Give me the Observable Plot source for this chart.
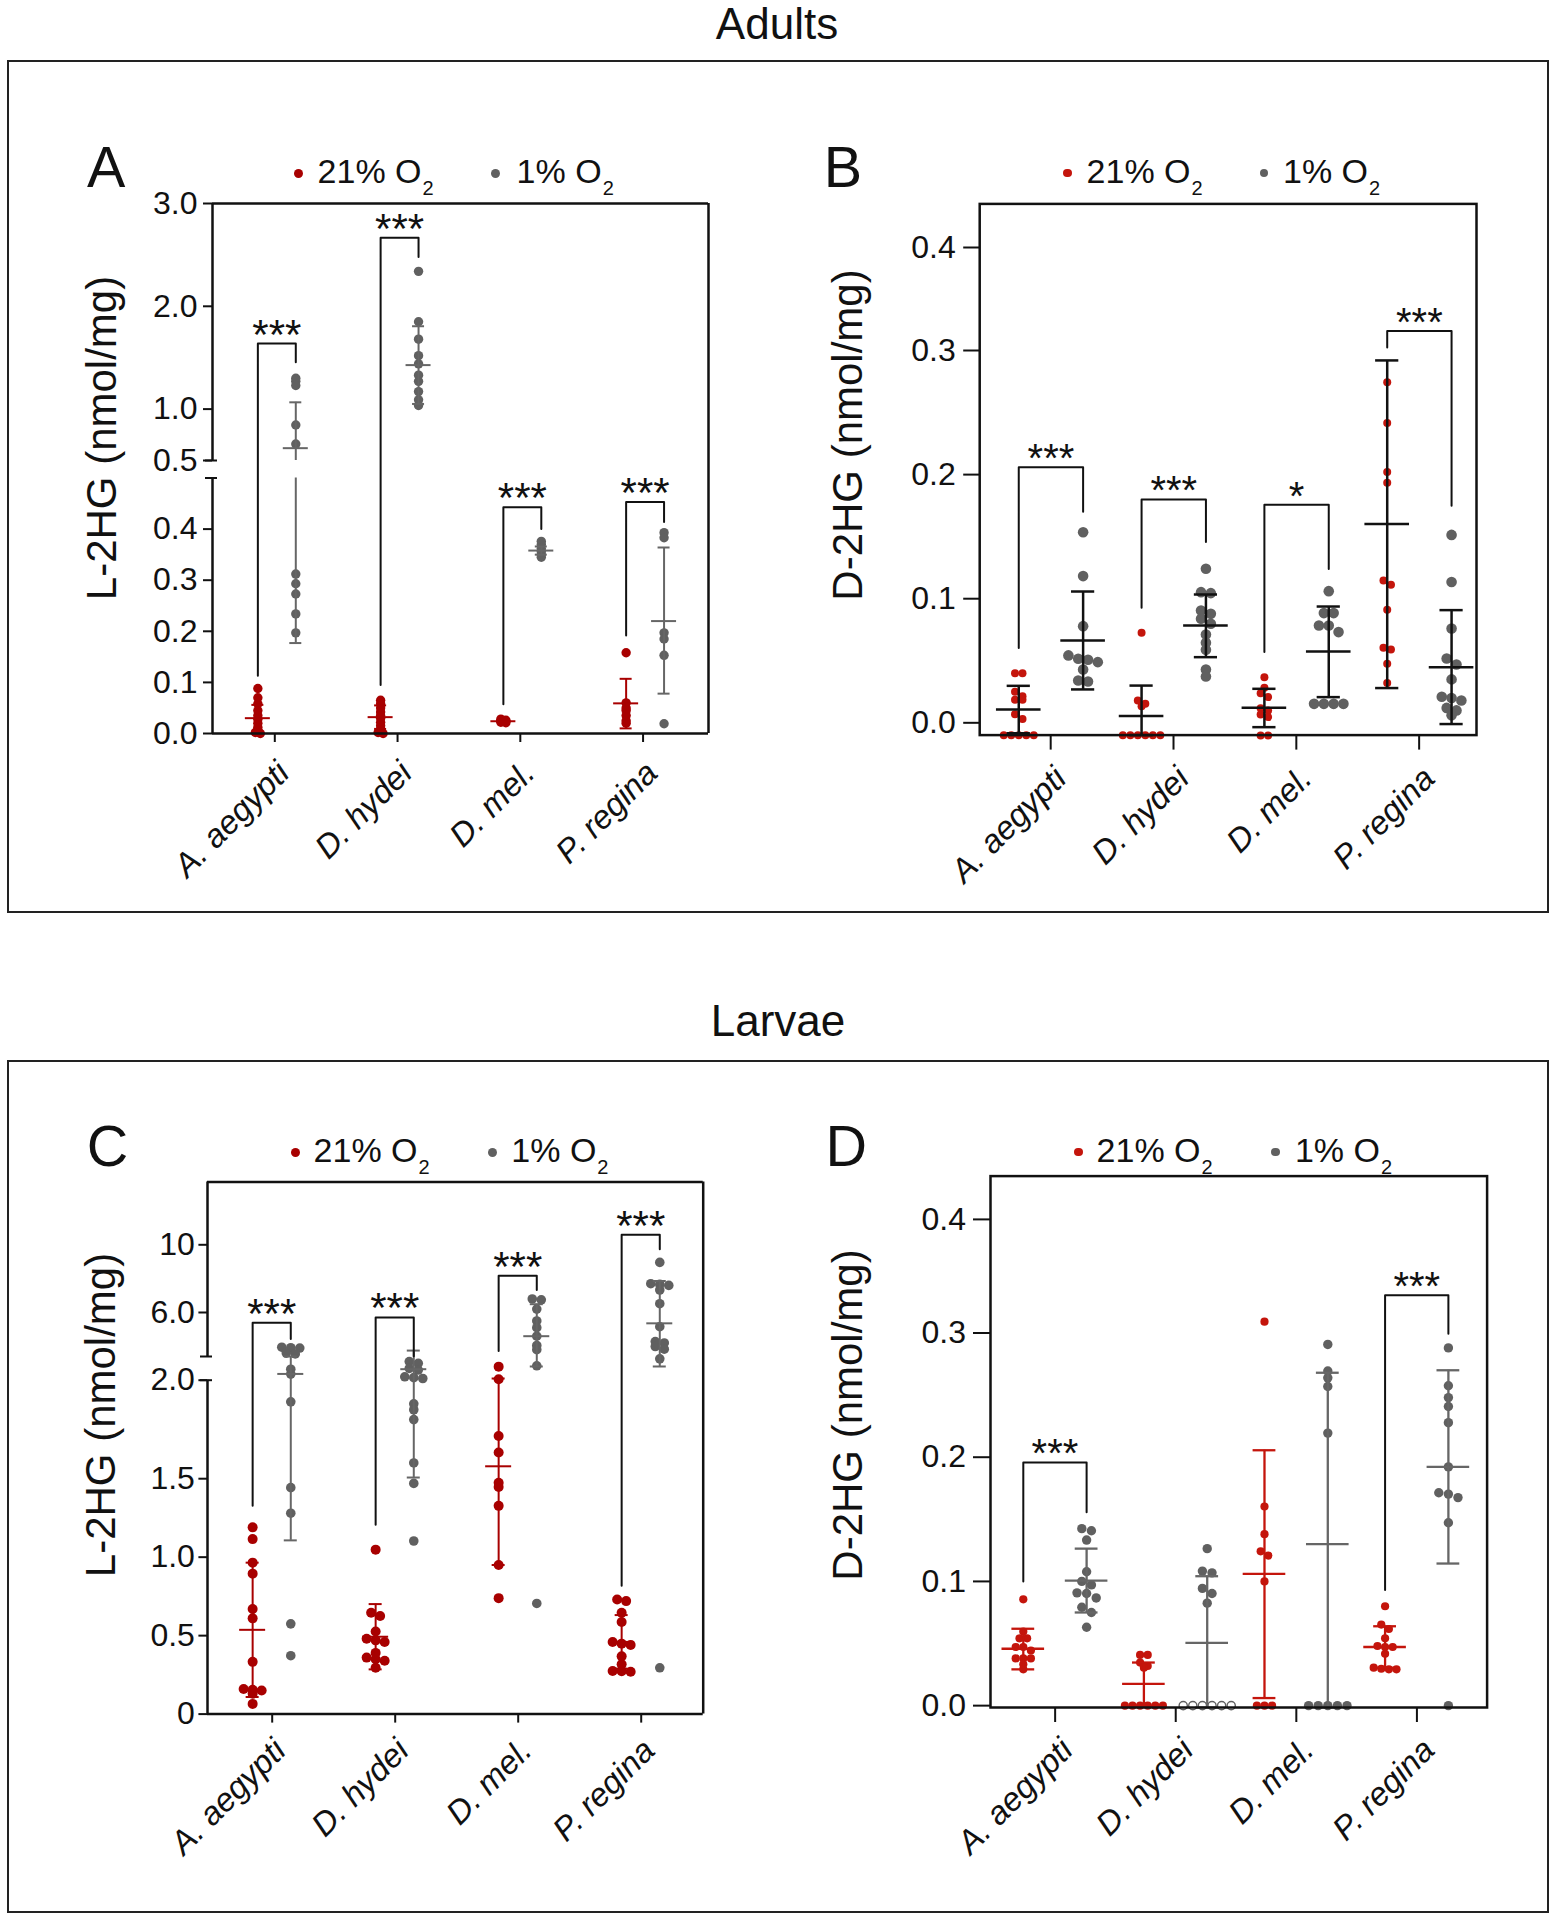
<!DOCTYPE html>
<html><head><meta charset="utf-8">
<script src="https://cdn.jsdelivr.net/npm/d3@7"></script>
<script src="https://cdn.jsdelivr.net/npm/@observablehq/plot@0.6"></script>
<style>
body{margin:0;background:#fff;color:#111;font-family:"Liberation Sans",Arial,sans-serif;}
#page{position:relative;width:1556px;height:1920px;overflow:hidden;}
.abs{position:absolute;white-space:nowrap;}
.box{position:absolute;border:2.5px solid #222;box-sizing:border-box;}
.title{font-size:44px;line-height:44px;transform:translateX(-50%);}
.letter{font-size:57.5px;line-height:57.5px;}
.leg{font-size:34px;line-height:34px;}
.leg .sub{font-size:20px;position:relative;top:12px;margin-left:1px;}
.dot{position:absolute;border-radius:50%;}
.ytitle{font-size:42px;line-height:42px;transform:translate(-50%,-50%) rotate(-90deg);}
.panel{position:absolute;}
</style></head>
<body><div id="page"></div>
<script>
// ---------------- data ----------------
const species = ["A. aegypti", "D. hydei", "D. mel.", "P. regina"];

// Panel A – Adults, L-2HG (nmol/mg)
const adultL2HG_21 = [
  [0.088, 0.07, 0.058, 0.045, 0.035, 0.028, 0.02, 0.012, 0.006, 0.002, 0.0],
  [0.065, 0.058, 0.05, 0.042, 0.035, 0.03, 0.022, 0.015, 0.008, 0.002, 0.0],
  [0.028, 0.026, 0.025, 0.024, 0.022, 0.021],
  [0.158, 0.06, 0.05, 0.045, 0.035, 0.025, 0.02]
];
const adultL2HG_1 = [
  [1.30, 1.27, 1.23, 0.845, 0.66, 0.312, 0.293, 0.273, 0.234, 0.197],
  [2.34, 1.85, 1.68, 1.52, 1.44, 1.33, 1.27, 1.17, 1.09, 1.035],
  [0.376, 0.37, 0.362, 0.356, 0.35, 0.345],
  [0.393, 0.383, 0.197, 0.185, 0.153, 0.019]
];
const adultL2HG_21_mean = [0.030, 0.032, 0.024, 0.059];
const adultL2HG_21_low  = [0.004, 0.009, 0.021, 0.010];
const adultL2HG_21_high = [0.056, 0.055, 0.027, 0.107];
const adultL2HG_1_mean  = [0.62, 1.428, 0.358, 0.22];
const adultL2HG_1_low   = [0.177, 1.05, 0.350, 0.078];
const adultL2HG_1_high  = [1.066, 1.806, 0.366, 0.364];
const adultL2HG_sigSpecies = [0, 1, 2, 3];
const adultL2HG_sigTop   = [1.638, 2.668, 0.443, 0.453];
const adultL2HG_sigLeft  = [0.113, 0.095, 0.057, 0.192];
const adultL2HG_sigRight = [1.455, 2.479, 0.400, 0.414];
const adultL2HG_sigLabel = ["***", "***", "***", "***"];
const adultL2HG_ticks = [0, 0.1, 0.2, 0.3, 0.4, 0.5, 1, 2, 3];

// Panel B – Adults, D-2HG (nmol/mg)
const adultD2HG_21 = [
  [0.040, 0.040, 0.025, 0.0215, 0.0185, 0.0185, 0.007, 0.003, -0.01, -0.01, -0.01, -0.01, -0.01],
  [0.0725, 0.018, 0.0153, 0.0134, -0.01, -0.01, -0.01, -0.01, -0.01, -0.01],
  [0.0368, 0.0282, 0.0239, 0.0207, 0.0118, 0.0099, 0.0067, 0.0046, -0.0102, -0.0102],
  [0.2745, 0.2415, 0.202, 0.1934, 0.1147, 0.1112, 0.0911, 0.0604, 0.0591, 0.0475, 0.032]
];
const adultD2HG_1 = [
  [0.1536, 0.1182, 0.0779, 0.0543, 0.0516, 0.0508, 0.0489, 0.043, 0.0341, 0.0333],
  [0.1241, 0.1053, 0.1045, 0.0905, 0.0878, 0.0838, 0.0798, 0.0712, 0.0645, 0.0588, 0.043, 0.0373],
  [0.1061, 0.0884, 0.0884, 0.0784, 0.0784, 0.0731, 0.0153, 0.0153, 0.0153, 0.0153],
  [0.1514, 0.1135, 0.076, 0.0518, 0.047, 0.035, 0.021, 0.02, 0.018, 0.012, 0.01, 0.006]
];
const adultD2HG_21_mean = [0.0107, 0.0054, 0.0121, 0.1601];
const adultD2HG_21_low  = [-0.0084, -0.0099, -0.0035, 0.028];
const adultD2HG_21_high = [0.0298, 0.030, 0.0274, 0.292];
const adultD2HG_1_mean  = [0.0663, 0.0784, 0.0575, 0.0447];
const adultD2HG_1_low   = [0.0269, 0.0529, 0.0207, -0.001];
const adultD2HG_1_high  = [0.1058, 0.1034, 0.0937, 0.0908];
const adultD2HG_sigSpecies = [0, 1, 2, 3];
const adultD2HG_sigTop   = [0.206, 0.180, 0.1757, 0.319];
const adultD2HG_sigLeft  = [0.0602, 0.0927, 0.057, 0.303];
const adultD2HG_sigRight = [0.170, 0.1456, 0.124, 0.175];
const adultD2HG_sigLabel = ["***", "***", "*", "***"];
const adultD2HG_ticks = [0, 0.1, 0.2, 0.3, 0.4];

// Panel C – Larvae, L-2HG (nmol/mg)
const larvaeL2HG_21 = [
  [1.19, 1.115, 0.965, 0.895, 0.67, 0.61, 0.333, 0.16, 0.155, 0.15, 0.13, 0.065],
  [1.048, 0.646, 0.625, 0.526, 0.48, 0.47, 0.46, 0.39, 0.36, 0.35, 0.34, 0.295],
  [2.8, 2.06, 1.717, 1.633, 1.474, 1.447, 1.327, 0.95, 0.739],
  [0.73, 0.72, 0.646, 0.587, 0.46, 0.449, 0.44, 0.368, 0.317, 0.275, 0.273, 0.27]
];
const larvaeL2HG_1 = [
  [3.95, 3.92, 3.9, 3.6, 3.55, 2.65, 2.36, 1.89, 1.443, 1.28, 0.575, 0.372],
  [3.1, 3.0, 2.7, 2.6, 2.2, 2.15, 2.1, 1.88, 1.85, 1.8, 1.58, 1.47, 1.103],
  [6.8, 6.75, 6.2, 5.5, 5.1, 4.6, 4.05, 3.8, 2.85, 0.705],
  [8.96, 7.7, 7.66, 7.6, 7.33, 6.52, 5.16, 4.28, 4.2, 3.99, 3.83, 3.26, 0.295]
];
const larvaeL2HG_21_mean = [0.537, 0.493, 1.563, 0.46];
const larvaeL2HG_21_low  = [0.109, 0.285, 0.95, 0.29];
const larvaeL2HG_21_high = [0.965, 0.701, 2.1, 0.631];
const larvaeL2HG_1_mean  = [2.37, 2.65, 4.6, 5.36];
const larvaeL2HG_1_low   = [1.107, 1.506, 2.81, 2.81];
const larvaeL2HG_1_high  = [3.4, 3.75, 6.49, 7.86];
const larvaeL2HG_sigSpecies = [0, 1, 2, 3];
const larvaeL2HG_sigTop   = [5.4, 5.71, 8.17, 10.59];
const larvaeL2HG_sigLeft  = [1.327, 1.206, 3.73, 0.818];
const larvaeL2HG_sigRight = [4.44, 3.42, 7.33, 9.73];
const larvaeL2HG_sigLabel = ["***", "***", "***", "***"];
const larvaeL2HG_ticks = [0, 0.5, 1, 1.5, 2, 6, 10];

// Panel D – Larvae, D-2HG (nmol/mg)
const larvaeD2HG_21 = [
  [0.0856, 0.0597, 0.0542, 0.0542, 0.0472, 0.0472, 0.0444, 0.038, 0.038, 0.038, 0.0333, 0.0292],
  [0.0408, 0.0408, 0.0347, 0.0319, 0.0306, 0, 0, 0, 0, 0, 0],
  [0.31, 0.1603, 0.138, 0.1242, 0.1208, 0.1, 0, 0, 0],
  [0.08, 0.0653, 0.0617, 0.0542, 0.048, 0.0472, 0.0472, 0.0417, 0.0306, 0.0297, 0.0292, 0.0292]
];
const larvaeD2HG_1 = [
  [0.1425, 0.1408, 0.1333, 0.1078, 0.1, 0.0972, 0.0908, 0.0903, 0.0867, 0.0792, 0.075, 0.0631],
  [0.1264, 0.1083, 0.1069, 0.0944, 0.0903, 0.0825],
  [0.2908, 0.2694, 0.2639, 0.2569, 0.2194, 0, 0, 0, 0, 0],
  [0.288, 0.2575, 0.248, 0.2408, 0.2278, 0.1922, 0.1714, 0.1703, 0.1675, 0.1472, 0]
];
// not-detected samples (drawn as open circles at zero)
const larvaeD2HG_1_nd = [[], [0, 0, 0, 0, 0, 0], [], []];
const larvaeD2HG_21_mean = [0.0458, 0.0175, 0.1061, 0.0472];
const larvaeD2HG_21_low  = [0.0292, 0.0, 0.0061, 0.0305];
const larvaeD2HG_21_high = [0.0619, 0.0347, 0.2056, 0.0639];
const larvaeD2HG_1_mean  = [0.1006, 0.0506, 0.13, 0.1922];
const larvaeD2HG_1_low   = [0.075, -0.0015, -0.0015, 0.1144];
const larvaeD2HG_1_high  = [0.1264, 0.1042, 0.268, 0.27];
const larvaeD2HG_sigSpecies = [0, 3];
const larvaeD2HG_sigTop   = [0.1958, 0.3333];
const larvaeD2HG_sigLeft  = [0.100, 0.0931];
const larvaeD2HG_sigRight = [0.1556, 0.2994];
const larvaeD2HG_sigLabel = ["***", "***"];
const larvaeD2HG_ticks = [0, 0.1, 0.2, 0.3, 0.4];

// ---------------- page furniture ----------------
const page = document.getElementById("page");
function el(cls, css, html) {
  const d = document.createElement("div");
  d.className = cls; Object.assign(d.style, css); d.innerHTML = html || "";
  page.appendChild(d); return d;
}
el("box", {left: "7px", top: "60px", width: "1542px", height: "853px"});
el("box", {left: "7px", top: "1060px", width: "1542px", height: "853px"});

const RED_AC = "#a80000", RED_BD = "#c4150c", GRAY = "#606060", GRAY_BAR = "#666666";

// ---------------- panel builder ----------------
function rowOffsets(vals, yPx, pitch, tol) {
  const idx = d3.range(vals.length).sort((a, b) => vals[b] - vals[a]);
  const off = new Array(vals.length);
  let row = [], y0 = 0;
  const flush = () => { row.forEach((i, k) => off[i] = (k - (row.length - 1) / 2) * pitch); row = []; };
  for (const i of idx) {
    const y = yPx(vals[i]);
    if (row.length && y - y0 > tol) flush();
    if (!row.length) y0 = y;
    row.push(i);
  }
  flush();
  return off;
}

function buildPanel(c) {
  const ppu = (c.fr - c.fl) / (c.xDom[1] - c.xDom[0]);
  const yPx = d3.scaleLinear().domain(c.yDom).range(c.yRng);
  const dots = [], bars = [], caps = [], means = [];
  for (const s of c.series) {
    for (let sp = 0; sp < 4; sp++) {
      const filled = s.values[sp], nd = s.nd ? s.nd[sp] : [];
      const all = filled.concat(nd);
      const off = rowOffsets(all, yPx, s.pitch, s.tol);
      all.forEach((v, i) => dots.push({key: s.key, v, hollow: i >= filled.length,
        x: sp + s.offset + off[i] / ppu}));
      const cx = sp + s.offset;
      const lo = s.low[sp], hi = s.high[sp];
      if (c.brk && !c.noSplit && lo < c.brk[1] && hi >= c.brk[1]) {
        bars.push({key: s.key, x: cx, y1: lo, y2: c.brk[0]});
        bars.push({key: s.key, x: cx, y1: c.brk[1], y2: hi});
      } else bars.push({key: s.key, x: cx, y1: lo, y2: hi});
      caps.push({key: s.key, y: lo, x1: cx - c.capHalf / ppu, x2: cx + c.capHalf / ppu});
      caps.push({key: s.key, y: hi, x1: cx - c.capHalf / ppu, x2: cx + c.capHalf / ppu});
      means.push({key: s.key, y: s.mean[sp], x1: cx - c.meanHalf / ppu, x2: cx + c.meanHalf / ppu});
    }
  }
  const [red, gray] = c.series;
  const brackets = [], stars = [];
  c.sig.species.forEach((sp, i) => {
    const xl = sp + red.offset, xr = sp + gray.offset;
    brackets.push({id: i, x: xl, y: c.sig.left[i]}, {id: i, x: xl, y: c.sig.top[i]},
                  {id: i, x: xr, y: c.sig.top[i]}, {id: i, x: xr, y: c.sig.right[i]});
    stars.push({x: (xl + xr) / 2, y: c.sig.top[i], label: c.sig.label[i]});
  });

  const marks = [];
  for (const s of c.series) {
    marks.push(Plot.dot(dots.filter(d => d.key === s.key && !d.hollow),
      {x: "x", y: "v", r: s.r, fill: s.fill, stroke: "none"}));
    marks.push(Plot.dot(dots.filter(d => d.key === s.key && d.hollow),
      {x: "x", y: "v", r: s.r - 0.6, fill: "white", stroke: s.fill, strokeWidth: 1.4}));
  }
  for (const s of c.series) {
    const f = d => d.key === s.key;
    marks.push(Plot.ruleX(bars.filter(f), {x: "x", y1: "y1", y2: "y2", stroke: s.bar, strokeWidth: c.barWidth}));
    marks.push(Plot.ruleY(caps.filter(f), {y: "y", x1: "x1", x2: "x2", stroke: s.bar, strokeWidth: c.barWidth}));
    marks.push(Plot.ruleY(means.filter(f), {y: "y", x1: "x1", x2: "x2", stroke: s.bar, strokeWidth: c.barWidth}));
  }
  marks.push(Plot.line(brackets, {x: "x", y: "y", z: "id", stroke: "#111", strokeWidth: 2}));
  marks.push(Plot.text(stars, {x: "x", y: "y", text: "label", fontSize: c.starSize, lineAnchor: "bottom", dy: c.starDy, fill: "#111"}));

  // frame
  const yMin = c.yDom[0], yMax = c.yDom[c.yDom.length - 1];
  if (c.brk) {
    marks.push(Plot.ruleY([yMin, yMax], {stroke: "#111", strokeWidth: 2.5}));
    marks.push(Plot.ruleX([c.xDom[1]], {stroke: "#111", strokeWidth: 2.5}));
    marks.push(Plot.ruleX([{y1: yMin, y2: c.brk[0]}, {y1: c.brk[1], y2: yMax}],
      {x: () => c.xDom[0], y1: "y1", y2: "y2", stroke: "#111", strokeWidth: 2.5}));
    marks.push(Plot.ruleY(c.brk, {x1: () => c.xDom[0] - 7 / ppu, x2: () => c.xDom[0] + 5 / ppu, stroke: "#111", strokeWidth: 2}));
  } else {
    marks.push(Plot.frame({stroke: "#111", strokeWidth: 2.5}));
  }
  marks.push(Plot.axisY({ticks: c.ticks, tickFormat: c.tickFormat, tickSize: c.yTickSize, tickPadding: c.yTickPad,
    fontSize: 32, strokeWidth: 2, label: null}));
  // tick marks and rotated labels drawn separately so the labels can be nudged
  marks.push(Plot.axisX({ticks: [0, 1, 2, 3], tickSize: c.xTickSize, strokeWidth: 2, text: null, label: null}));
  marks.push(Plot.axisX({ticks: [0, 1, 2, 3], tickFormat: i => species[i], tickRotate: -45,
    tickSize: 0, tickPadding: 4, fontSize: 33, fontStyle: "italic", label: null,
    dx: c.xLabDx, dy: c.xLabDy}));

  const svg = Plot.plot({
    width: c.W, height: c.H,
    marginLeft: c.fl - c.L, marginTop: c.ft - c.T, marginRight: c.L + c.W - c.fr, marginBottom: c.T + c.H - c.fb,
    x: {type: "linear", domain: c.xDom},
    y: {type: "linear", domain: c.yDom, range: c.yRng.map(v => v - c.T)},
    style: {fontFamily: "Liberation Sans, Arial, sans-serif", background: "transparent", overflow: "visible", color: "#111"},
    marks
  });
  const holder = el("panel", {left: c.L + "px", top: c.T + "px", width: c.W + "px", height: c.H + "px"});
  holder.appendChild(svg);

  // letter, legend, y title
  el("abs letter", {left: c.letter[1] + "px", top: (c.letter[2] - 0.8465 * 57.5) + "px"}, c.letter[0]);
  c.legend.forEach(([cx, tx, col, r]) => {
    el("dot", {left: (cx - r) + "px", top: (c.legBase - 10 - r) + "px", width: 2 * r + "px", height: 2 * r + "px", background: col});
  });
  el("abs leg", {left: c.legend[0][1] + "px", top: (c.legBase - 28.8) + "px"}, '21% O<span class="sub">2</span>');
  el("abs leg", {left: c.legend[1][1] + "px", top: (c.legBase - 28.8) + "px"}, '1% O<span class="sub">2</span>');
  el("abs ytitle", {left: c.yTitle[1] + "px", top: c.yTitle[2] + "px"}, c.yTitle[0]);
}

const fmt1 = d3.format(".1f");

// Titles
el("abs title", {left: "777px", top: "2px"}, "Adults");
el("abs title", {left: "778px", top: "999px"}, "Larvae");

// Panel A
buildPanel({
  L: 60, T: 190, W: 700, H: 710, fl: 212, ft: 203, fr: 708, fb: 733,
  xDom: [-0.5075, 3.533],
  yDom: [0, 0.4999999, 0.5, 3], yRng: [733, 477.5, 460, 203], brk: [0.4999999, 0.5],
  series: [
    {key: "21", values: adultL2HG_21, mean: adultL2HG_21_mean, low: adultL2HG_21_low, high: adultL2HG_21_high,
     offset: -0.138, r: 4.7, pitch: 5, tol: 1.5, fill: RED_AC, bar: RED_AC},
    {key: "1", values: adultL2HG_1, mean: adultL2HG_1_mean, low: adultL2HG_1_low, high: adultL2HG_1_high,
     offset: 0.171, r: 4.7, pitch: 5, tol: 1.5, fill: GRAY, bar: GRAY_BAR}
  ],
  sig: {species: adultL2HG_sigSpecies, top: adultL2HG_sigTop, left: adultL2HG_sigLeft, right: adultL2HG_sigRight, label: adultL2HG_sigLabel},
  ticks: adultL2HG_ticks, tickFormat: fmt1, yTickSize: 9, yTickPad: 6, xTickSize: 9, xLabDx: 9, xLabDy: 30,
  barWidth: 2, capHalf: 6, meanHalf: 12.5, starSize: 42, starDy: 5,
  letter: ["A", 87, 188], legBase: 183, legend: [[298, 317.6, RED_AC, 4.5], [495, 516.6, GRAY, 4.5]],
  yTitle: ["L-2HG (nmol/mg)", 102.4, 437.5]
});

// Panel B
buildPanel({
  L: 820, T: 190, W: 720, H: 710, fl: 979.2, ft: 203.4, fr: 1476, fb: 734.6,
  xDom: [-0.578, 3.467],
  yDom: [-0.0099, 0.3, 0.4, 0.4423], yRng: [734.6, 350, 247, 203.4],
  series: [
    {key: "21", values: adultD2HG_21, mean: adultD2HG_21_mean, low: adultD2HG_21_low, high: adultD2HG_21_high,
     offset: -0.26, r: 4, pitch: 7.5, tol: 5, fill: RED_BD, bar: "#111"},
    {key: "1", values: adultD2HG_1, mean: adultD2HG_1_mean, low: adultD2HG_1_low, high: adultD2HG_1_high,
     offset: 0.264, r: 5.3, pitch: 9.8, tol: 7, fill: GRAY, bar: "#111"}
  ],
  sig: {species: adultD2HG_sigSpecies, top: adultD2HG_sigTop, left: adultD2HG_sigLeft, right: adultD2HG_sigRight, label: adultD2HG_sigLabel},
  ticks: adultD2HG_ticks, tickFormat: fmt1, yTickSize: 16, yTickPad: 8, xTickSize: 15, xLabDx: 10, xLabDy: 34,
  barWidth: 2.5, capHalf: 11.6, meanHalf: 22.3, starSize: 40, starDy: 5,
  letter: ["B", 823.8, 188], legBase: 183, legend: [[1067.4, 1086.6, RED_BD, 4.3], [1263.9, 1283, GRAY, 4.3]],
  yTitle: ["D-2HG (nmol/mg)", 848, 435]
});

// Panel C
buildPanel({
  L: 60, T: 1170, W: 700, H: 730, fl: 207, ft: 1181.5, fr: 702.7, fb: 1713.6,
  xDom: [-0.526, 3.504],
  yDom: [0, 1.5, 2.0, 3.4, 13.71], yRng: [1713.6, 1478.2, 1379.7, 1356, 1181.5], brk: [2.0, 3.4],
  series: [
    {key: "21", values: larvaeL2HG_21, mean: larvaeL2HG_21_mean, low: larvaeL2HG_21_low, high: larvaeL2HG_21_high,
     offset: -0.159, r: 5, pitch: 9, tol: 4, fill: RED_AC, bar: RED_AC},
    {key: "1", values: larvaeL2HG_1, mean: larvaeL2HG_1_mean, low: larvaeL2HG_1_low, high: larvaeL2HG_1_high,
     offset: 0.151, r: 4.8, pitch: 9, tol: 4, fill: GRAY, bar: GRAY_BAR}
  ],
  noSplit: true,
  sig: {species: larvaeL2HG_sigSpecies, top: larvaeL2HG_sigTop, left: larvaeL2HG_sigLeft, right: larvaeL2HG_sigRight, label: larvaeL2HG_sigLabel},
  ticks: larvaeL2HG_ticks, tickFormat: d => (d === 0 || d === 10) ? String(d) : fmt1(d),
  yTickSize: 8.6, yTickPad: 4, xTickSize: 9, xLabDx: 8, xLabDy: 27,
  barWidth: 2, capHalf: 6.5, meanHalf: 13, starSize: 42, starDy: 5,
  letter: ["C", 86.8, 1166.5], legBase: 1162, legend: [[295.3, 313.6, RED_AC, 4.5], [492.2, 511.3, GRAY, 4.5]],
  yTitle: ["L-2HG (nmol/mg)", 101.3, 1414.7]
});

// Panel D
buildPanel({
  L: 820, T: 1170, W: 720, H: 730, fl: 990, ft: 1175.6, fr: 1486.6, fb: 1707,
  xDom: [-0.536, 3.582],
  yDom: [-0.0015, 0.3, 0.4, 0.438], yRng: [1707, 1332.5, 1218.9, 1175.6],
  series: [
    {key: "21", values: larvaeD2HG_21, mean: larvaeD2HG_21_mean, low: larvaeD2HG_21_low, high: larvaeD2HG_21_high,
     offset: -0.264, r: 4.1, pitch: 7.6, tol: 5, fill: RED_BD, bar: RED_BD},
    {key: "1", values: larvaeD2HG_1, nd: larvaeD2HG_1_nd, mean: larvaeD2HG_1_mean, low: larvaeD2HG_1_low, high: larvaeD2HG_1_high,
     offset: 0.261, r: 4.7, pitch: 9.6, tol: 6, fill: GRAY, bar: GRAY_BAR}
  ],
  sig: {species: larvaeD2HG_sigSpecies, top: larvaeD2HG_sigTop, left: larvaeD2HG_sigLeft, right: larvaeD2HG_sigRight, label: larvaeD2HG_sigLabel},
  ticks: larvaeD2HG_ticks, tickFormat: fmt1, yTickSize: 17, yTickPad: 7.5, xTickSize: 15, xLabDx: 12, xLabDy: 33,
  barWidth: 2.3, capHalf: 11.4, meanHalf: 21.3, starSize: 40, starDy: 5,
  letter: ["D", 825.5, 1167], legBase: 1162, legend: [[1078.3, 1096.6, RED_BD, 4.3], [1275.3, 1294.9, GRAY, 4.3]],
  yTitle: ["D-2HG (nmol/mg)", 848, 1414.7]
});
</script>
</body></html>
